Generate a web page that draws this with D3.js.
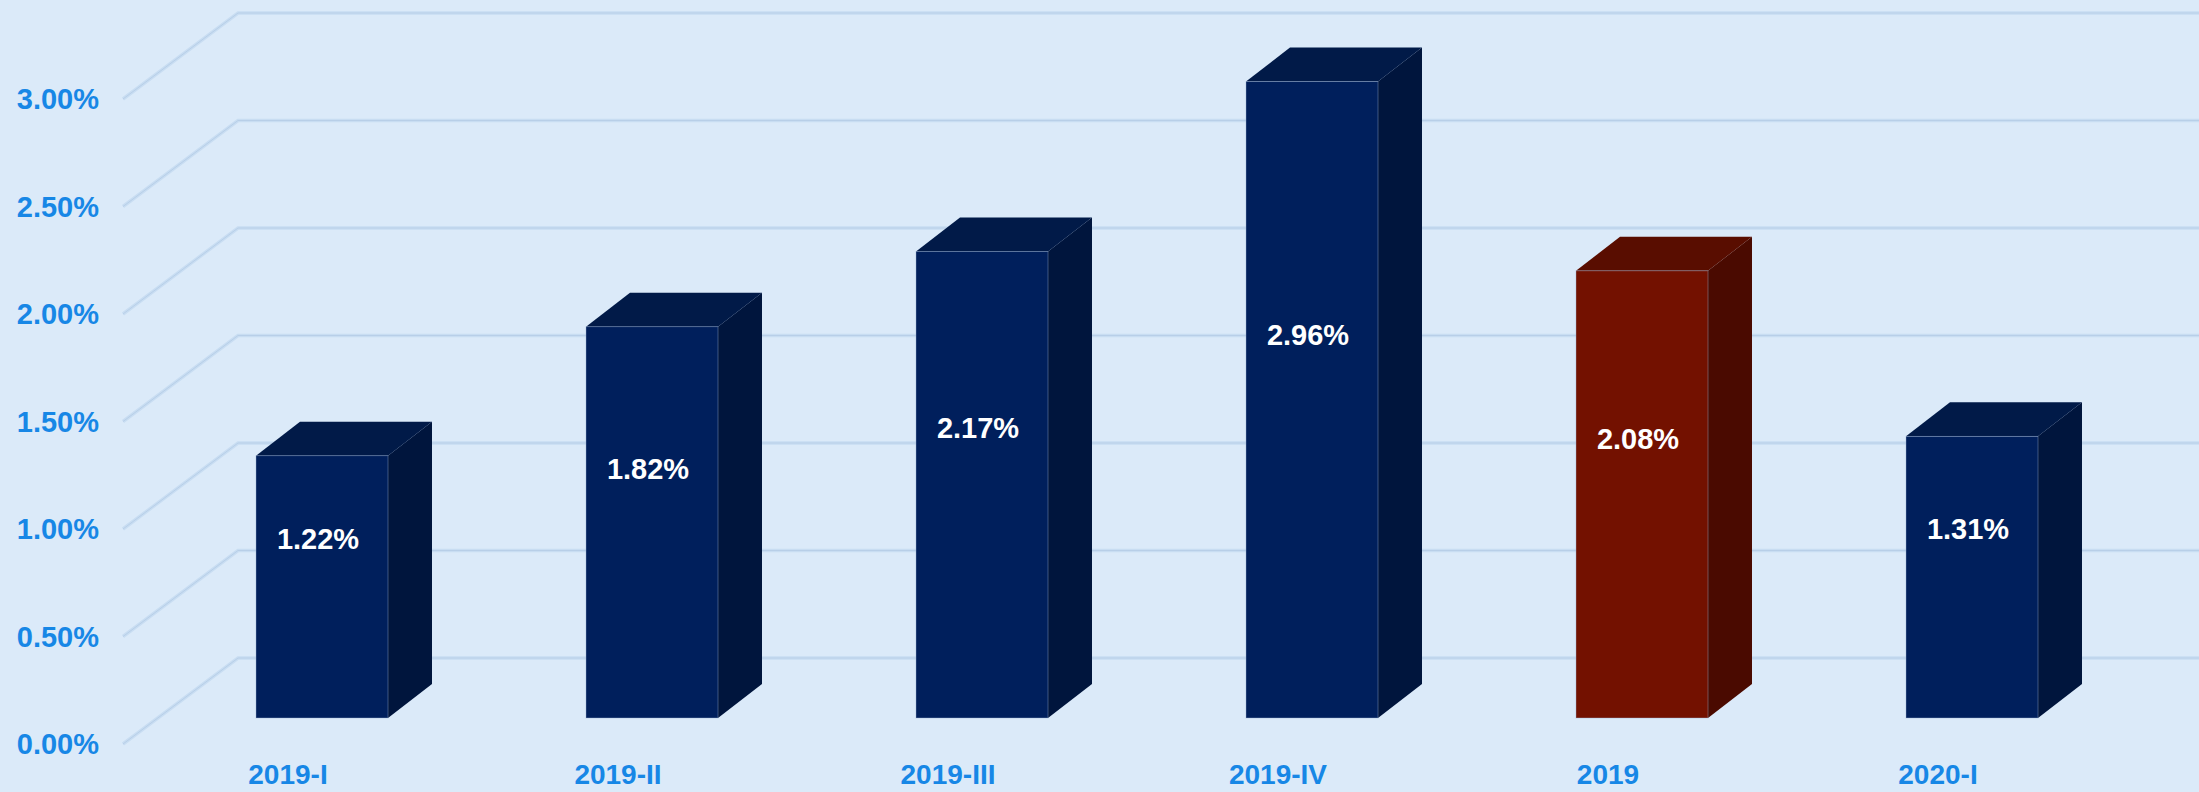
<!DOCTYPE html>
<html>
<head>
<meta charset="utf-8">
<script src="https://cdn.jsdelivr.net/npm/d3@7"></script>
<style>
  html, body { margin: 0; padding: 0; background: #dbeaf9; }
  svg { display: block; font-family: "Liberation Sans", Arial, sans-serif; }
</style>
</head>
<body>
<div id="chart"></div>
<script>
// Chart data
const categories = ["2019-I", "2019-II", "2019-III", "2019-IV", "2019", "2020-I"];
const values = [1.22, 1.82, 2.17, 2.96, 2.08, 1.31];
const highlight = ["2019"];
const yTicks = [0, 0.5, 1.0, 1.5, 2.0, 2.5, 3.0];

const width = 2199, height = 792;

const svg = d3.select("#chart").append("svg")
    .attr("width", width)
    .attr("height", height);

svg.append("rect").attr("width", width).attr("height", height).attr("fill", "#dbeaf9");

// Front plane scales
const x = d3.scaleBand()
    .domain(categories)
    .range([123, 2103])
    .paddingInner(0.6)
    .paddingOuter(0.3);

const y = d3.scaleLinear()
    .domain([0, 3.0])
    .range([744, 99]);

// Depth of the floor / back wall, and where the bars sit inside it
const depth = { dx: 115, dy: 86 };
const barOff = { dx: 34, dy: 26 };
const barDepth = { dx: 44, dy: 34 };

// Gridlines: diagonal on the side wall, then along the back wall
const grid = svg.append("g").attr("class", "grid");
yTicks.forEach(t => {
    const yf = y(t);
    const d = `M${x.range()[0]},${yf} L${x.range()[0] + depth.dx},${yf - depth.dy} L${width},${yf - depth.dy}`;
    grid.append("path")
        .attr("d", d)
        .attr("fill", "none")
        .attr("stroke", "#c8ddf2")
        .attr("stroke-width", 3.5);
    grid.append("path")
        .attr("d", d)
        .attr("fill", "none")
        .attr("stroke", "#b8cfe8")
        .attr("stroke-width", 1);
});

// Y axis labels
svg.append("g").selectAll("text")
    .data(yTicks)
    .join("text")
    .attr("x", 99)
    .attr("y", d => y(d))
    .attr("dy", "0.35em")
    .attr("text-anchor", "end")
    .attr("font-size", 29)
    .attr("font-weight", "bold")
    .attr("fill", "#1787e6")
    .text(d => d3.format(".2f")(d) + "%");

// Bars as 3D boxes
const colors = {
    normal: { front: "#001f5c", top: "#011a48", side: "#00153d" },
    hi: { front: "#731100", top: "#590d00", side: "#4a0a00" }
};

const bars = svg.append("g").selectAll("g")
    .data(categories.map((c, i) => ({ cat: c, value: values[i] })))
    .join("g");

bars.each(function (d) {
    const g = d3.select(this);
    const col = highlight.includes(d.cat) ? colors.hi : colors.normal;
    const x0 = x(d.cat) + barOff.dx;
    const x1 = x0 + x.bandwidth();
    const yb = y(0) - barOff.dy;
    const yt = y(d.value) - barOff.dy;
    const ddx = barDepth.dx, ddy = barDepth.dy;

    g.append("path")
        .attr("d", `M${x1},${yt} L${x1 + ddx},${yt - ddy} L${x1 + ddx},${yb - ddy} L${x1},${yb} Z`)
        .attr("fill", col.side);
    g.append("path")
        .attr("d", `M${x0},${yt} L${x0 + ddx},${yt - ddy} L${x1 + ddx},${yt - ddy} L${x1},${yt} Z`)
        .attr("fill", col.top);
    g.append("rect")
        .attr("x", x0)
        .attr("y", yt)
        .attr("width", x1 - x0)
        .attr("height", yb - yt)
        .attr("fill", col.front)
        .attr("stroke", "#9db4d4")
        .attr("stroke-width", 0.8)
        .attr("stroke-opacity", 0.5);

    // value label inside the bar, a bit above the middle
    g.append("text")
        .attr("x", (x0 + x1) / 2 - 4)
        .attr("y", y(0.167 + d.value * 0.545) - barOff.dy)
        .attr("dy", "0.35em")
        .attr("text-anchor", "middle")
        .attr("font-size", 29)
        .attr("font-weight", "bold")
        .attr("fill", "#ffffff")
        .text(d3.format(".2f")(d.value) + "%");
});

// Category labels on the front edge
svg.append("g").selectAll("text")
    .data(categories)
    .join("text")
    .attr("x", d => x(d) + x.bandwidth() / 2)
    .attr("y", 784)
    .attr("text-anchor", "middle")
    .attr("font-size", 28)
    .attr("font-weight", "bold")
    .attr("fill", "#1787e6")
    .text(d => d);
</script>
</body>
</html>
